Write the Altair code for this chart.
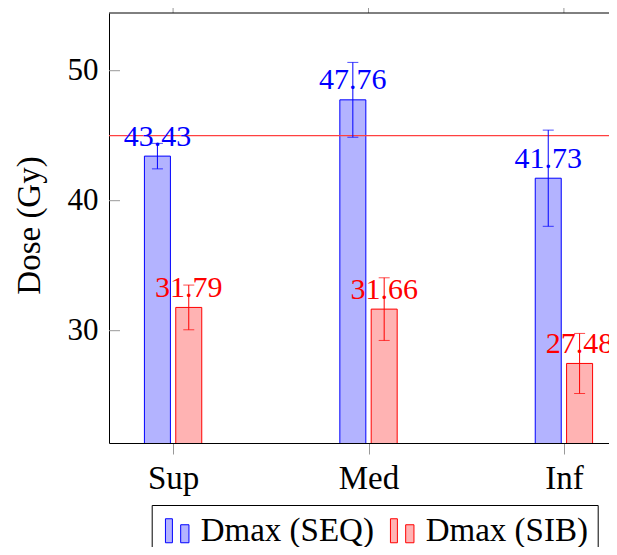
import altair as alt
import pandas as pd

# ---- data ----
categories = ["Sup", "Med", "Inf"]
series_names = ["Dmax (SEQ)", "Dmax (SIB)"]
seq_values = [43.43, 47.76, 41.73]
seq_errors = [0.98, 2.88, 3.70]
sib_values = [31.79, 31.66, 27.48]
sib_errors = [1.72, 2.41, 2.31]
y_ticks = [30, 40, 50]
reference_dose = [45]

rows = []
for i, c in enumerate(categories):
    rows.append(dict(cat=c, idx=i, series=series_names[0], value=seq_values[i], err=seq_errors[i]))
    rows.append(dict(cat=c, idx=i, series=series_names[1], value=sib_values[i], err=sib_errors[i]))
df = pd.DataFrame(rows)

FONT = "Liberation Serif"
W, H = 500, 430
SHIFT = 0.0802
x_scale = alt.Scale(domain=[-0.3024, 2.2051], nice=False, zero=False)
y_scale = alt.Scale(domain=[21.36, 54.44], nice=False, zero=False)

fill_colors = ["#b3b3ff", "#ffb3b3"]
line_colors = ["#0000ff", "#ff0000"]
is_seq = f"datum.series === '{series_names[0]}'"
text_color = alt.condition(is_seq, alt.value(line_colors[0]), alt.value(line_colors[1]))

base = alt.Chart(df).transform_calculate(
    xpos=f"datum.idx + ({is_seq} ? -{SHIFT} : {SHIFT})",
    lo="datum.value - datum.err",
    hi="datum.value + datum.err",
)

sym = "M-0.98,-1H-0.4V1H-0.98Z M0.29,-0.5H0.98V1H0.29Z"
legend = alt.Legend(
    orient="none", legendX=42.7, legendY=492, direction="horizontal", title=None,
    symbolType=sym, symbolSize=576, symbolStrokeWidth=1, symbolOpacity=1,
    labelFont=FONT, labelFontSize=33, labelColor="black", labelOffset=7, labelLimit=0,
    padding=9, strokeColor="black", fillColor="white", cornerRadius=0, columnPadding=11,
)

label_expr = f"{categories}[datum.value]".replace("'", '"')

bars = base.mark_bar(size=26, strokeWidth=1, clip=True, opacity=1).encode(
    x=alt.X("xpos:Q", scale=x_scale, axis=alt.Axis(
        values=[0, 1, 2], labelExpr=label_expr, title=None, grid=False,
        tickSize=11, tickColor="#999999", domainColor="black",
        labelFont=FONT, labelFontSize=33, labelColor="black", labelPadding=8,
    )),
    y=alt.Y("value:Q", scale=y_scale, axis=alt.Axis(
        values=y_ticks, ticks=False, grid=False, domainColor="black",
        labelFont=FONT, labelFontSize=31, labelColor="black", labelPadding=11,
        title="Dose (Gy)", titleFont=FONT, titleFontSize=33, titleFontWeight="normal",
        titleColor="black", titleAngle=270, titleBaseline="alphabetic",
        titleX=-70, titleY=212,
    )),
    fill=alt.Fill("series:N", scale=alt.Scale(domain=series_names, range=fill_colors), legend=legend),
    stroke=alt.Stroke("series:N", scale=alt.Scale(domain=series_names, range=line_colors), legend=legend),
)

ref_line = alt.Chart(pd.DataFrame({"d": reference_dose})).mark_rule(
    color="#ff4040", strokeWidth=1.3, opacity=1
).encode(y=alt.Y("d:Q", scale=y_scale))

err_rule = base.mark_rule(strokeWidth=1).encode(
    x=alt.X("xpos:Q", scale=x_scale),
    y=alt.Y("lo:Q", scale=y_scale),
    y2="hi:Q",
    color=text_color,
)
cap_lo = base.mark_tick(orient="horizontal", size=11, thickness=1).encode(
    x=alt.X("xpos:Q", scale=x_scale), y=alt.Y("lo:Q", scale=y_scale), color=text_color)
cap_hi = base.mark_tick(orient="horizontal", size=11, thickness=1).encode(
    x=alt.X("xpos:Q", scale=x_scale), y=alt.Y("hi:Q", scale=y_scale), color=text_color)

labels = base.mark_text(font=FONT, fontSize=30, baseline="alphabetic", align="center", dy=-10.5).encode(
    x=alt.X("xpos:Q", scale=x_scale),
    y=alt.Y("value:Q", scale=y_scale),
    text=alt.Text("value:Q", format=".2f"),
    color=text_color,
)

ytick_marks = alt.Chart(pd.DataFrame({"t": y_ticks})).mark_rule(color="#999999", strokeWidth=1).encode(
    y=alt.Y("t:Q", scale=y_scale), x=alt.value(0), x2=alt.value(11))

top_ticks = alt.Chart(pd.DataFrame({"i": list(range(len(categories)))})).mark_rule(
    color="#999999", strokeWidth=1).encode(
    x=alt.X("i:Q", scale=x_scale), y=alt.value(-12), y2=alt.value(0))

top_border = alt.Chart(pd.DataFrame({"i": [0]})).mark_rule(color="black", strokeWidth=1).encode(
    x=alt.value(0), x2=alt.value(W), y=alt.value(0))

chart = alt.layer(
    bars, ref_line, err_rule, cap_lo, cap_hi, labels, ytick_marks, top_ticks, top_border
).properties(
    width=W, height=H,
    autosize=alt.AutoSizeParams(type="none"),
    padding={"left": 101, "top": 5, "right": 0, "bottom": 104},
).configure_view(stroke=None)

chart.save("out.html", embed_options={"renderer": "svg", "actions": False})
